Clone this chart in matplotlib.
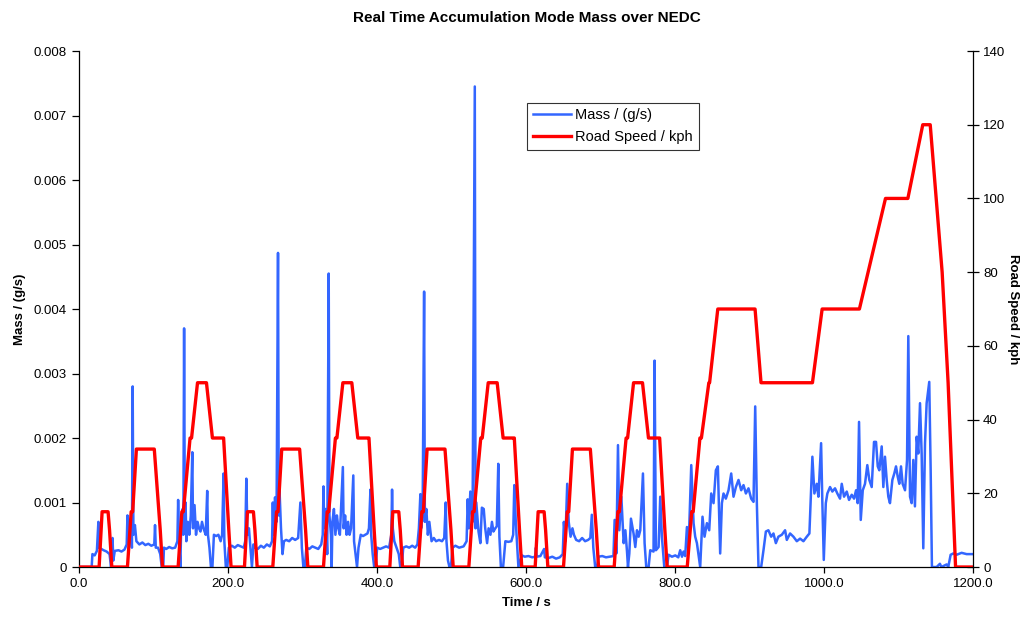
import matplotlib
matplotlib.use("Agg")
import matplotlib.pyplot as plt
from matplotlib.ticker import FormatStrFormatter, FuncFormatter, MultipleLocator

plt.rcParams['font.family'] = ['Liberation Sans', 'DejaVu Sans']

# Road speed over the NEDC (time s, speed kph)
speed_t = [0, 27, 31, 39, 41, 44, 65, 70, 72, 77, 101, 109, 112, 133, 138, 140, 149, 151, 159, 171, 179, 192, 194, 201, 204,
           222, 226, 234, 236, 239, 260, 265, 267, 272, 296, 304, 307, 328, 333, 335, 344, 346, 354, 366, 374, 387, 389, 396, 399,
           417, 421, 429, 431, 434, 455, 460, 462, 467, 491, 499, 502, 523, 528, 530, 539, 541, 549, 561, 569, 582, 584, 591, 594,
           612, 616, 624, 626, 629, 650, 655, 657, 662, 686, 694, 697, 718, 723, 725, 734, 736, 744, 756, 764, 777, 779, 786, 789,
           796, 816, 822, 824, 833, 835, 845, 846, 857, 907, 915, 984, 997, 1047, 1082, 1112, 1132, 1142, 1158, 1166, 1176, 1199]
speed_v = [0, 0, 15, 15, 10, 0, 0, 15, 15, 32, 32, 10, 0, 0, 15, 15, 35, 35, 50, 50, 35, 35, 35, 10, 0,
           0, 15, 15, 10, 0, 0, 15, 15, 32, 32, 10, 0, 0, 15, 15, 35, 35, 50, 50, 35, 35, 35, 10, 0,
           0, 15, 15, 10, 0, 0, 15, 15, 32, 32, 10, 0, 0, 15, 15, 35, 35, 50, 50, 35, 35, 35, 10, 0,
           0, 15, 15, 10, 0, 0, 15, 15, 32, 32, 10, 0, 0, 15, 15, 35, 35, 50, 50, 35, 35, 35, 10, 0,
           0, 0, 15, 15, 35, 35, 50, 50, 70, 70, 50, 50, 70, 70, 100, 100, 120, 120, 80, 50, 0, 0]

# Accumulation mode mass (time s, g/s)
mass_t = [0, 17, 18, 21, 24, 26, 27, 30, 33, 37, 41, 43, 45, 46, 48, 53, 57, 61, 64, 65, 66, 69, 71, 72, 73, 75, 77,
          81, 85, 89, 93, 97, 101, 102, 103, 106, 109, 111, 113, 114, 117, 121, 125, 129, 132, 133, 134, 136, 137, 139,
          140, 141, 142, 143, 144, 146, 148, 150, 152, 153, 155, 157, 159, 161, 163, 165, 167, 170, 172, 173, 175, 177,
          179, 181, 184, 187, 190, 192, 194, 195, 197, 199, 201, 205, 209, 213, 217, 221, 223, 224.5, 226, 228, 230, 232,
          234, 236, 240, 244, 248, 252, 256, 259, 260, 261, 263, 265, 267, 268, 269, 271, 273, 275, 278, 282, 286, 290,
          294, 297, 299, 301, 303, 305, 309, 313, 317, 321, 325, 327, 328, 329, 331, 333, 335, 336, 338, 339, 340, 342,
          344, 346, 348, 350, 354, 355, 357, 359, 361, 363, 365, 368, 369, 371, 373, 375, 378, 381, 384, 387, 389, 391,
          392, 394, 396, 398, 400, 404, 408, 412, 416, 419, 420, 421, 423, 426, 429, 431, 433, 435, 439, 443, 447, 451,
          454, 456, 458, 459, 461, 463, 464, 466, 468, 470, 473, 476, 479, 483, 487, 490, 492, 493, 495, 497, 499, 501,
          505, 510, 516, 520, 521.5, 523, 525, 528, 531, 532, 533, 536, 538.5, 540.5, 543, 545, 547.5, 549.5, 552, 554,
          556, 558.5, 560.5, 562.5, 564, 566, 569, 572, 576, 580, 582.5, 584, 586, 589.5, 594,
          598, 603, 608, 612, 613, 614, 619, 624, 625, 630, 635, 640, 645, 649, 650.5, 652.5, 655, 657, 659.5, 662, 664,
          667, 671, 675, 679, 683, 686, 688, 690, 692.5, 695, 697, 702, 707, 712,
          717, 718.6, 720.9, 723.1, 724.9, 727.6, 730.7, 733, 735.2, 736.5, 738.3, 740.5, 744, 746.3, 748.6, 750.8, 753,
          756.6, 758.8, 761, 764.2, 766.4, 770.8, 772.2, 774, 777.6, 779.8, 782, 785.2, 788.8, 791, 795.5, 800, 804,
          806.6, 809, 811, 813.3, 815.6, 817.7, 821.4, 824.5, 826.7, 829, 833.4, 836.5, 839.2, 842.4, 845.5, 848.2,
          851.3, 854.4, 857.1, 860.2, 862.5, 864.7, 867.8, 871.4, 875, 878.1, 881.3, 884.8, 888.4, 891.5, 894.7, 898.2,
          901.8, 904.9, 907.2, 909.4, 911.6, 915.2, 918.3, 921.5, 924.9, 928.6, 931.7, 934.9, 938.3, 942.9, 947.3,
          949.6, 954, 958.5, 963, 967.4, 971.9, 976.4, 979.9, 983.9, 986.6, 989.8, 992, 995.6, 997.3, 999.2, 1001.9,
          1004, 1007.6, 1010.7, 1014.3, 1017.4, 1021, 1023.3, 1026.4, 1030, 1033.1, 1036.7, 1039.8, 1042.5, 1044.7,
          1046.5, 1048.8, 1051.5, 1054.5, 1057.6, 1060.3, 1063.5, 1066.6, 1069.3, 1071.6, 1073.7, 1076.9, 1079.1,
          1081.3, 1083.6, 1085.8, 1088, 1091.2, 1093.8, 1096.1, 1098.4, 1100.5, 1102.8, 1105, 1108.2, 1110.9, 1112.6,
          1114.9, 1117.1, 1119.3, 1121.5, 1123.8, 1126, 1128.3, 1130.5, 1132.7, 1135, 1137.2, 1140.7, 1142.6, 1144.3,
          1150.6, 1155, 1157, 1164, 1166.2, 1169.4, 1172.9, 1177.4, 1184.1, 1190.8, 1198.9]
mass_v = [0, 0, 0.0002, 0.00018, 0.00025, 0.0007, 0.0003, 0.00028, 0.00026, 0.00024, 0.0002, 0.0, 0.00045, 0.0001,
          0.00025, 0.00026, 0.00024, 0.00027, 0.00035, 0.0008, 0.0004, 0.0006, 0.0003, 0.0028, 0.0005, 0.00065, 0.0004,
          0.00035, 0.00038, 0.00034, 0.00036, 0.00033, 0.00035, 0.00065, 0.0003, 0.0003, 0.0002, 0.0, 0.0, 0.0003,
          0.00028, 0.00031, 0.00029, 0.0003, 0.0004, 0.00104, 0.0005, 0.0, 0.0006, 0.0009,
          0.0005, 0.0037, 0.0006, 0.001, 0.0004, 0.0007, 0.0005, 0.0008, 0.00178, 0.0006, 0.00096, 0.0005, 0.0007,
          0.0006, 0.00055, 0.0007, 0.0006, 0.0005, 0.00118, 0.0005, 0.0003, 0.0,
          0.0, 0.0005, 0.00048, 0.0005, 0.0004, 0.0005, 0.00145, 0.0004, 0.0, 0.0, 0.0003, 0.00033, 0.0003, 0.00034,
          0.00032, 0.0003, 0.0004, 0.00137, 0.0005, 0.0006, 0.0003, 0.0,
          0.00035, 0.0003, 0.00028, 0.00033, 0.0003, 0.00035, 0.00032, 0.0004, 0.001, 0.0005, 0.00108, 0.0007, 0.00487,
          0.0008, 0.0012, 0.0006, 0.0002, 0.0004, 0.00042, 0.0004, 0.00045, 0.00042,
          0.00045, 0.001, 0.0003, 0.0, 0.0, 0.0003, 0.00028, 0.00032, 0.0003, 0.00028, 0.00035, 0.0005, 0.00125, 0.0006,
          0.0009, 0.0002, 0.00455, 0.0008, 0.0005, 0.0, 0.0007, 0.0009,
          0.0005, 0.0008, 0.0006, 0.0005, 0.00155, 0.0006, 0.0008, 0.0005, 0.0007, 0.0005, 0.0006, 0.00142, 0.0004,
          0.0002, 0.0, 0.0003, 0.0005, 0.00048, 0.0005, 0.00052, 0.0006, 0.0012,
          0.0005, 0.0002, 0.0, 0.0, 0.0003, 0.00028, 0.0003, 0.00032, 0.0003, 0.0005, 0.0012, 0.0006, 0.0004, 0.0003,
          0.0002, 0.0, 0.0, 0.0003, 0.00032, 0.0003, 0.00033, 0.0003,
          0.00035, 0.0006, 0.00113, 0.0006, 0.0008, 0.00427, 0.0007, 0.0009, 0.0005, 0.0007, 0.0004, 0.00045, 0.0004,
          0.00042, 0.0004, 0.00045, 0.001, 0.0004, 0.0001, 0.0, 0.0, 0.0003,
          0.00033, 0.0003, 0.00032, 0.0004, 0.00105, 0.0006, 0.00117, 0.0007, 0.00745, 0.0006, 0.001, 0.00055, 0.00037,
          0.00092, 0.0009, 0.0006, 0.00037, 0.0006, 0.0005, 0.0007,
          0.00055, 0.0006, 0.00063, 0.0016, 0.00047, 0.0, 0.0, 0.0004, 0.00039, 0.0004, 0.0005, 0.00127, 0.0007, 0.0,
          0.00018,
          0.00016, 0.00017, 0.00015, 0.00016, 0.0003, 0.00016, 0.00017, 0.00028, 0.00015, 0.00014, 0.00016, 0.00013,
          0.00015, 0.0002, 0.0007, 0.0004, 0.00129, 0.0007, 0.00047, 0.0006, 0.0005,
          0.00042, 0.0004, 0.00045, 0.0004, 0.00042, 0.00045, 0.00081, 0.0003, 0.0, 0.0, 0.00016, 0.00017, 0.00015,
          0.00016,
          0.00017, 0.00073, 0.00021, 0.00189, 0.00057, 0.00109, 0.00037, 0.00057, 0.00024, 0.0, 0.00021, 0.00075,
          0.00052, 0.00031, 0.00057, 0.00047, 0.00057,
          0.00145, 0.00037, 0.0, 0.0, 0.00026, 0.00024, 0.0032, 0.00026, 0.00031, 0.00109, 0.00047, 0.0, 0.0, 0.00019,
          0.00016, 0.00018, 0.00015,
          0.00026, 0.00016, 0.00024, 0.00017, 0.00062, 0.00026, 0.00158, 0.00068, 0.00047, 0.00037, 0.0, 0.00078,
          0.00047, 0.00068, 0.00057, 0.00114,
          0.00099, 0.0015, 0.00156, 0.00021, 0.00099, 0.00114, 0.00106, 0.00119, 0.00145, 0.00109, 0.00124, 0.00135,
          0.00119, 0.00127, 0.00114, 0.00122,
          0.00106, 0.00101, 0.00249, 0.00099, 0.0, 0.0, 0.00026, 0.00055, 0.00057, 0.00047, 0.00052, 0.00037, 0.00047,
          0.0005, 0.00057,
          0.00042, 0.00052, 0.00047, 0.0004, 0.00044, 0.0004, 0.00047, 0.00052, 0.00171, 0.00114, 0.00129, 0.00109,
          0.00192, 0.00099, 0.00011, 0.00099,
          0.00114, 0.00124, 0.00117, 0.00122, 0.00114, 0.00106, 0.00129, 0.00109, 0.00117, 0.00104, 0.00112, 0.00106,
          0.00119, 0.00099,
          0.00225, 0.00073, 0.00119, 0.00129, 0.00158, 0.00135, 0.00124, 0.00194, 0.00194, 0.00156, 0.0015, 0.00187,
          0.00124,
          0.00171, 0.00135, 0.00109, 0.00099, 0.00135, 0.00145, 0.00156, 0.0014, 0.00129, 0.00156, 0.00129, 0.00119,
          0.00166, 0.00358,
          0.00109, 0.00099, 0.00166, 0.00094, 0.00202, 0.00176, 0.00254, 0.00176, 0.00029, 0.00192, 0.00254, 0.00287,
          0.0015, 0.0,
          0.0, 0.00005, 0.0, 0.00004, 0.0, 0.00019, 0.00021, 0.00019, 0.00022, 0.0002, 0.0002]

fig = plt.figure(figsize=(10.3, 6.22), dpi=100)
ax1 = fig.add_axes([0.0767, 0.0884, 0.8684, 0.8296])
ax2 = ax1.twinx()

l1, = ax1.plot(mass_t, mass_v, color='#3366FF', linewidth=1.8, label='Mass / (g/s)')
l2, = ax2.plot(speed_t, speed_v, color='#FF0000', linewidth=2.4, label='Road Speed / kph')

ax1.set_xlim(0, 1200)
ax1.set_ylim(0, 0.008)
ax2.set_ylim(0, 140)
ax1.xaxis.set_major_locator(MultipleLocator(200))
ax1.xaxis.set_major_formatter(FormatStrFormatter('%.1f'))
ax1.yaxis.set_major_locator(MultipleLocator(0.001))
ax1.yaxis.set_major_formatter(FuncFormatter(lambda v, p: '0' if abs(v) < 1e-9 else f'{v:.3f}'))
ax2.yaxis.set_major_locator(MultipleLocator(20))

for ax in (ax1, ax2):
    ax.spines['top'].set_visible(False)
    for s in ax.spines.values():
        s.set_linewidth(0.9)
ax1.spines['right'].set_visible(False)
ax2.spines['left'].set_visible(False)
ax2.spines['bottom'].set_visible(False)

ax1.tick_params(axis='both', labelsize=9.5, length=5, width=0.9, direction='out', pad=4)
ax1.tick_params(axis='x', length=4)
ax2.tick_params(axis='y', labelsize=9.5, length=8, width=0.9, direction='inout', pad=3)

ax1.set_xlabel('Time / s', fontsize=9.5, fontweight='bold', labelpad=5)
ax1.set_ylabel('Mass / (g/s)', fontsize=9.5, fontweight='bold', labelpad=5)
ax2.set_ylabel('Road Speed / kph', fontsize=9.5, fontweight='bold', rotation=270, labelpad=10)

fig.suptitle('Real Time Accumulation Mode Mass over NEDC', x=0.512, y=0.983, fontsize=11, fontweight='bold')

leg = ax2.legend(handles=[l1, l2], loc='upper left', bbox_to_anchor=(0.501, 0.9), fontsize=10.5,
                 frameon=True, fancybox=False, shadow=False, borderpad=0.4, labelspacing=0.55,
                 handlelength=2.6, handletextpad=0.3, borderaxespad=0)
leg.get_frame().set_edgecolor('black')
leg.get_frame().set_linewidth(0.8)

fig.savefig('out.png', dpi=100)
